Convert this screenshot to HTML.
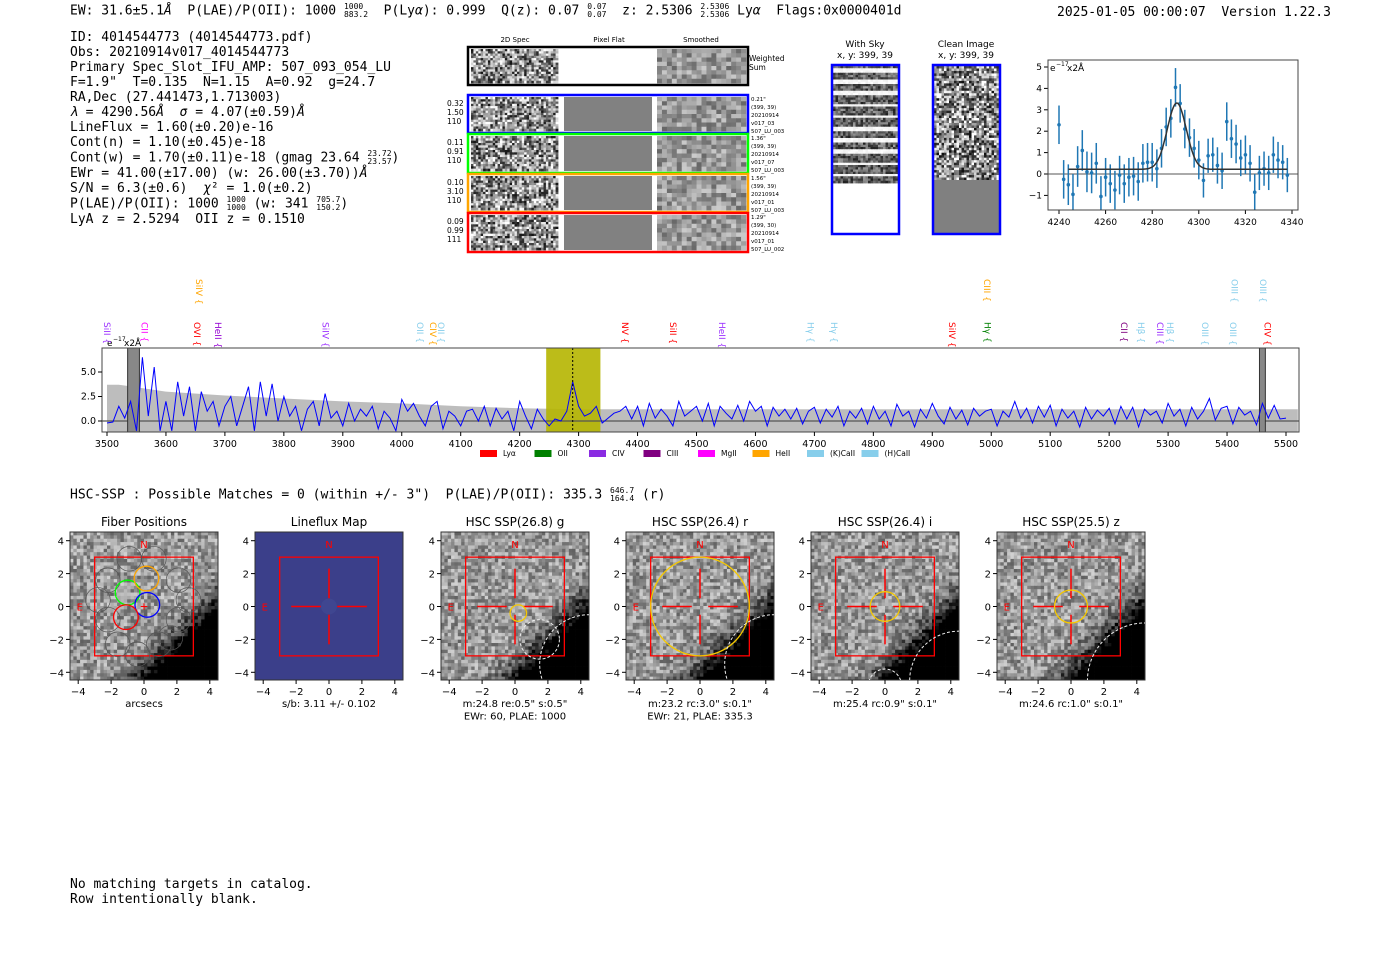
<!DOCTYPE html>
<html><head><meta charset="utf-8">
<style>
body{margin:0;background:#fff;width:1400px;height:953px;overflow:hidden;position:relative;font-family:"DejaVu Sans Mono","Liberation Mono",monospace;}
.t{position:absolute;font-size:13px;white-space:pre;color:#000;line-height:15px;}
.fr{display:inline-flex;flex-direction:column;font-size:8px;line-height:8px;vertical-align:middle;}
svg text{font-family:"DejaVu Sans","Liberation Sans",sans-serif;}
</style></head><body>
<div class="t" style="left:70px;top:3px">EW: 31.6±5.1<i>Å</i>  P(LAE)/P(OII): 1000 <span class="fr"><span>1000</span><span>883.2</span></span>  P(Ly<i>α</i>): 0.999  Q(z): 0.07 <span class="fr"><span>0.07</span><span>0.07</span></span>  z: 2.5306 <span class="fr"><span>2.5306</span><span>2.5306</span></span> Ly<i>α</i>  Flags:0x0000401d</div>
<div class="t" style="left:1057px;top:5px">2025-01-05 00:00:07  Version 1.22.3</div>
<div class="t" style="left:70px;top:30px">ID: 4014544773 (4014544773.pdf)
Obs: 20210914v017_4014544773
Primary Spec_Slot_IFU_AMP: 507_093_054_LU
F=1.9"  T=0.135  N=1.15  A=0.92  g=24.7
RA,Dec (27.441473,1.713003)
<i>λ</i> = 4290.56<i>Å</i>  <i>σ</i> = 4.07(±0.59)<i>Å</i>
LineFlux = 1.60(±0.20)e-16
Cont(n) = 1.10(±0.45)e-18
Cont(w) = 1.70(±0.11)e-18 (gmag 23.64 <span class="fr"><span>23.72</span><span>23.57</span></span>)
EWr = 41.00(±17.00) (w: 26.00(±3.70))<i>Å</i>
S/N = 6.3(±0.6)  <i>χ</i>² = 1.0(±0.2)
P(LAE)/P(OII): 1000 <span class="fr"><span>1000</span><span>1000</span></span> (w: 341 <span class="fr"><span>705.7</span><span>150.2</span></span>)
LyA z = 2.5294  OII z = 0.1510</div>
<div class="t" style="left:70px;top:487px">HSC-SSP : Possible Matches = 0 (within +/- 3")  P(LAE)/P(OII): 335.3 <span class="fr"><span>646.7</span><span>164.4</span></span> (r)</div>
<div class="t" style="left:70px;top:877px">No matching targets in catalog.
Row intentionally blank.</div>

<svg id="svg" width="1400" height="953" style="position:absolute;left:0;top:0" xmlns="http://www.w3.org/2000/svg"></svg>
<script>
// ===== data =====
const zoomWave=[4240,4242,4244,4246,4248,4250,4252,4254,4256,4258,4260,4262,4264,4266,4268,4270,4272,4274,4276,4278,4280,4282,4284,4286,4288,4290,4292,4294,4296,4298,4300,4302,4304,4306,4308,4310,4312,4314,4316,4318,4320,4322,4324,4326,4328,4330,4332,4334,4336,4338];
const zoomFlux=[2.3,-0.25,-0.5,-0.95,0.35,1.1,0.1,0.05,0.5,-1.05,-0.15,-0.45,-0.75,-0.05,-0.45,-0.15,-0.1,-0.35,0.5,0.55,0.55,0.25,1.2,2.2,2.6,4.05,3.3,2.1,1.7,1.2,0.65,-0.3,0.85,0.9,0.4,0.15,2.45,1.65,1.4,0.75,0.9,0.5,-0.85,0.05,0.25,0.05,0.9,0.65,0.55,-0.05];
const zoomErr=[0.9,0.9,0.95,0.95,0.95,0.95,0.95,0.95,0.95,0.95,0.9,0.9,0.9,0.9,0.9,0.9,0.9,0.9,0.9,0.9,0.9,0.9,0.9,0.9,0.9,0.9,0.9,0.9,0.9,0.9,0.9,0.8,0.8,0.8,0.85,0.85,0.9,0.9,0.9,0.85,0.9,0.85,0.85,0.8,0.8,0.8,0.85,0.85,0.8,0.8];
const fitParams=[4290.56,4.07,3.1,0.22]; // center, sigma, amplitude, continuum
const zoomXTicks=[4240,4260,4280,4300,4320,4340];
const zoomYTicks=[-1,0,1,2,3,4,5];

const specStart=3500, specStep=10;
const specFlux=[-0.2,-0.1,1.5,0.3,2.0,-1.0,6.5,0.5,5.5,-1.0,
2.0,-1.0,4.0,0.5,3.5,-1.0,3.0,1.0,2.0,-0.5,
1.5,2.5,-0.5,1.5,3.5,-1.0,4.0,0.5,3.8,0.0,
2.5,0.5,1.5,-1.0,1.2,2.0,-0.5,2.8,0.3,1.0,
-0.5,1.8,0.0,1.2,0.5,1.5,-0.8,1.0,0.3,-1.0,
2.2,1.0,1.8,0.5,-0.5,1.5,2.0,-0.8,1.0,0.5,
-0.5,1.0,1.2,0.0,1.5,-0.5,1.3,0.2,1.0,-1.0,
2.0,0.5,-0.8,1.2,0.2,-0.5,0.2,0.0,1.0,4.0,
1.5,0.5,0.8,1.5,-0.2,0.3,0.8,1.0,1.5,0.2,
1.5,-0.5,1.8,0.3,1.2,0.5,-0.5,2.0,0.5,1.0,
1.5,0.0,1.8,-0.5,1.5,0.8,0.2,1.6,0.0,2.0,
1.0,1.5,-0.5,1.4,0.5,1.2,0.2,1.3,-0.3,1.0,
1.4,-0.2,1.2,0.4,1.5,-0.5,1.0,0.3,1.3,-0.3,
1.5,0.2,1.0,-0.5,1.7,0.5,1.0,-0.6,1.2,0.3,
1.8,0.5,-0.3,1.4,0.2,1.1,-0.4,1.3,0.5,1.0,
1.2,-0.5,1.0,0.4,2.0,0.3,1.3,-0.2,1.5,0.4,
1.6,-0.5,1.2,0.3,1.0,-0.6,1.4,0.2,1.1,0.5,
1.3,-0.3,1.5,0.2,1.4,-0.6,1.2,0.6,1.0,-0.2,
1.8,0.5,1.2,-0.5,1.4,0.2,1.0,2.3,0.1,1.3,
1.5,-0.3,1.4,0.6,1.0,-0.4,1.8,0.3,1.6,0.2,
0.3];
const errWave=[3500,3520,3600,3700,3800,3900,4000,4100,4200,4300,4400,4500,4700,5000,5300,5520];
const errVal=[3.7,3.7,3.0,2.6,2.3,2.0,1.8,1.5,1.3,1.2,1.2,1.2,1.2,1.2,1.2,1.2];
const specXTicks=[3500,3600,3700,3800,3900,4000,4100,4200,4300,4400,4500,4600,4700,4800,4900,5000,5100,5200,5300,5400,5500];
const specYTicks=[0.0,2.5,5.0];
const lineNames=["SiII","CII","SiIV","OVI","HeII","SiIV","OII","CIV","OII","NV","SiII","HeII","Hγ","Hγ","SiIV","CIII","Hγ","CII","Hβ","CIII","Hβ","OIII","OIII","OIII","OIII","CIV"];
const lineWaves=[3500,3564,3656,3653,3688,3871,4031,4053,4067,4379,4460,4543,4693,4733,4933,4993,4994,5225,5254,5286,5303,5363,5410,5413,5461,5469];
const lineColors=["#9b30ff","#ff00ff","orange","red","#9400d3","#9b30ff","#87ceeb","orange","#87ceeb","red","red","#9b30ff","#87ceeb","#87ceeb","red","orange","green","#800080","#87ceeb","#9b30ff","#87ceeb","#87ceeb","#87ceeb","#87ceeb","#87ceeb","red"];
const lineRow=[0,0,1,0,0,0,0,0,0,0,0,0,0,0,0,1,0,0,0,0,0,0,0,1,1,0];
const legendNames=["Lyα","OII","CIV","CIII","MgII","HeII","(K)CaII","(H)CaII"];
const legendColors=["red","green","#8a2be2","#800080","#ff00ff","orange","#87ceeb","#87ceeb"];

const NS="http://www.w3.org/2000/svg";
const svg=document.getElementById('svg');
function mk(tag,attrs,parent){const e=document.createElementNS(NS,tag);for(const k in attrs)e.setAttribute(k,attrs[k]);(parent||svg).appendChild(e);return e;}
function txt(x,y,s,attrs,parent){const e=mk('text',Object.assign({x:x,y:y},attrs||{}),parent);e.textContent=s;return e;}
function hash(a,b,c){let h=(a*374761393+b*668265263+c*2147483647)|0;h=(h^(h>>>13))*1274126177|0;return ((h^(h>>>16))>>>0)/4294967295;}

// ===== noise images (imagery texture) =====
function noiseImg(g,x,y,w,h,nx,ny,seed,fn){
  const cw=w/nx,ch=h/ny;
  for(let j=0;j<ny;j++)for(let i=0;i<nx;i++){
    let v=fn?fn(i/nx,j/ny,hash(i,j,seed)):hash(i,j,seed);
    v=Math.max(0,Math.min(1,v));const c=Math.round(v*255);
    mk('rect',{x:(x+i*cw).toFixed(2),y:(y+j*ch).toFixed(2),width:(cw+0.4).toFixed(2),height:(ch+0.4).toFixed(2),fill:`rgb(${c},${c},${c})`},g);
  }
}

// ===== 2D spectra cutouts =====
const cut=mk('g',{});


txt(515,42,'2D Spec',{'font-size':7,'text-anchor':'middle'},cut);
txt(609,42,'Pixel Flat',{'font-size':7,'text-anchor':'middle'},cut);
txt(701,42,'Smoothed',{'font-size':7,'text-anchor':'middle'},cut);
const rows=[[47,85,'#000'],[95,133,'blue'],[134,173,'#0f0'],[174,212,'orange'],[213,252,'red']];
const rowLeft=[null,['0.32','1.50','110'],['0.11','0.91','110'],['0.10','3.10','110'],['0.09','0.99','111']];
const rowRight=[null,['0.21"','(399, 39)','20210914','v017_03','507_LU_003'],['1.36"','(399, 39)','20210914','v017_07','507_LU_003'],['1.56"','(399, 39)','20210914','v017_01','507_LU_003'],['1.29"','(399, 30)','20210914','v017_01','507_LU_002']];
rows.forEach((r,k)=>{
  const y0=r[0],y1=r[1];
  noiseImg(cut,471,y0+2,87,y1-y0-4,36,15,k*7+1,(u,v,n)=>0.55+(n-0.5)*0.95);
  if(k===0) mk('rect',{x:560,y:y0+2,width:96,height:y1-y0-4,fill:'#fff'},cut);
  else mk('rect',{x:564,y:y0+2,width:88,height:y1-y0-4,fill:'#818181'},cut);
  noiseImg(cut,657,y0+2,89,y1-y0-4,18,8,k*7+3,(u,v,n)=>0.6+(n-0.5)*0.4);
  mk('rect',{x:468,y:y0,width:280,height:y1-y0,fill:'none',stroke:r[2],'stroke-width':2.5},cut);
  if(rowLeft[k]) rowLeft[k].forEach((s,i)=>txt(447,y0+11+i*9,s,{'font-size':7.5},cut));
  if(rowRight[k]) rowRight[k].forEach((s,i)=>txt(751,y0+6+i*8,s,{'font-size':5.5},cut));
});
txt(749,61,'Weighted',{'font-size':7.5},cut);txt(749,70,'Sum',{'font-size':7.5},cut);

// With Sky / Clean image
const sky=mk('g',{});


txt(865,47,'With Sky',{'font-size':9,'text-anchor':'middle'},sky);
txt(865,58,'x, y: 399, 39',{'font-size':9,'text-anchor':'middle'},sky);
mk('rect',{x:832,y:65,width:67,height:169,fill:'#fff'},sky);
noiseImg(sky,833,66,65,117,26,52,91,(u,v,n)=>{const s=Math.sin(v*10*2*Math.PI); return s>0.55?0.93+n*0.07:0.12+n*0.5;});
mk('rect',{x:832,y:65,width:67,height:169,fill:'none',stroke:'blue','stroke-width':2.5},sky);
const cln=mk('g',{});


txt(966,47,'Clean Image',{'font-size':9,'text-anchor':'middle'},cln);
txt(966,58,'x, y: 399, 39',{'font-size':9,'text-anchor':'middle'},cln);
noiseImg(cln,934,66,65,114,26,46,57,(u,v,n)=>0.55+(n-0.5)*1.0);
mk('rect',{x:934,y:180,width:65,height:54,fill:'#808080'},cln);
mk('rect',{x:933,y:65,width:67,height:169,fill:'none',stroke:'blue','stroke-width':2.5},cln);

// ===== zoom spectrum plot =====
const zp=mk('g',{});


const zx=w=>1059+(w-4240)*2.33, zy=f=>174-f*21.4;
zoomXTicks.forEach(t=>{mk('line',{x1:zx(t),x2:zx(t),y1:210,y2:214,stroke:'#000'},zp);txt(zx(t),225,String(t),{'font-size':9,'text-anchor':'middle'},zp);});
zoomYTicks.forEach(t=>{mk('line',{x1:1044,x2:1048,y1:zy(t),y2:zy(t),stroke:'#000'},zp);txt(1042,zy(t)+3,t<0?'−'+(-t):String(t),{'font-size':9,'text-anchor':'end'},zp);});
mk('line',{x1:1048,x2:1298,y1:zy(0),y2:zy(0),stroke:'#555','stroke-width':1},zp);
zoomWave.forEach((w,i)=>{
  const e=mk('line',{x1:zx(w),x2:zx(w),y1:Math.min(210,zy(zoomFlux[i]-zoomErr[i])),y2:zy(zoomFlux[i]+zoomErr[i]),stroke:'#1f77b4','stroke-width':1.5},zp);
  
  const c=mk('circle',{cx:zx(w),cy:zy(zoomFlux[i]),r:1.8,fill:'#1f77b4'},zp);
  
});
let fp='';for(let w=4244;w<=4338;w+=0.5){const f=fitParams[3]+fitParams[2]*Math.exp(-0.5*((w-fitParams[0])/fitParams[1])**2);fp+=(fp?'L':'M')+zx(w).toFixed(1)+','+zy(f).toFixed(1);}
const fl=mk('path',{d:fp,fill:'none',stroke:'#333','stroke-width':1.5},zp);

mk('rect',{x:1048,y:60,width:250,height:150,fill:'none',stroke:'#444'},zp);
txt(1050,71,'e',{'font-size':9},zp);txt(1056,66,'−17',{'font-size':6},zp);txt(1067,71,'x2Å',{'font-size':9},zp);

// ===== full spectrum =====
const sp=mk('g',{});


const sx=w=>107+(w-3500)*0.5895, sy=f=>421-f*9.8;
const clip=mk('clipPath',{id:'spc'},sp);mk('rect',{x:102,y:348,width:1197,height:84},clip);
const inner=mk('g',{'clip-path':'url(#spc)'},sp);
let ep='M'+sx(errWave[0])+',432';errWave.forEach((w,i)=>ep+='L'+sx(w).toFixed(1)+','+sy(errVal[i]).toFixed(1));ep+='L'+sx(errWave[errWave.length-1])+',432Z';
const eb=mk('path',{d:ep,fill:'#bdbdbd'},inner);

const yb=mk('rect',{x:sx(4245),y:348,width:sx(4337)-sx(4245),height:84,fill:'#b5b500','opacity':0.9},inner);

mk('line',{x1:102,x2:1299,y1:sy(0),y2:sy(0),stroke:'#555','stroke-width':1.2},inner);
[[3535,3555],[5455,5465]].forEach(b=>{mk('rect',{x:sx(b[0]),y:348,width:sx(b[1])-sx(b[0]),height:84,fill:'#888',stroke:'#333'},inner);});
let spd='';specFlux.forEach((f,i)=>spd+=(i?'L':'M')+sx(specStart+i*specStep).toFixed(1)+','+sy(f).toFixed(1));
const sl=mk('path',{d:spd,fill:'none',stroke:'blue','stroke-width':1},inner);

mk('line',{x1:sx(4290),x2:sx(4290),y1:348,y2:432,stroke:'#000','stroke-dasharray':'2,2'},inner);
mk('rect',{x:102,y:348,width:1197,height:84,fill:'none',stroke:'#444'},sp);
specXTicks.forEach(t=>{mk('line',{x1:sx(t),x2:sx(t),y1:432,y2:436,stroke:'#000'},sp);txt(sx(t),447,String(t),{'font-size':9.5,'text-anchor':'middle'},sp);});
specYTicks.forEach(t=>{mk('line',{x1:98,x2:102,y1:sy(t),y2:sy(t),stroke:'#000'},sp);txt(96,sy(t)+3,t.toFixed(1),{'font-size':9.5,'text-anchor':'end'},sp);});
txt(107,346,'e',{'font-size':9},sp);txt(113,341,'−17',{'font-size':6},sp);txt(124,346,'x2Å',{'font-size':9},sp);
lineNames.forEach((n,i)=>{
  const x=sx(lineWaves[i]), y0=lineRow[i]?279:322;
  const t=txt(0,0,n+' {',{'font-size':9,fill:lineColors[i],transform:`translate(${(x-3).toFixed(1)},${y0}) rotate(90)`},sp);
  
});
legendNames.forEach((n,i)=>{
  const lx=480+i*54.5;
  mk('rect',{x:lx,y:450,width:17,height:7,fill:legendColors[i]},sp);
  txt(lx+23,456,n,{'font-size':7.5},sp);
});

// ===== thumbnails =====
const panels=[
 {x:70,title:'Fiber Positions',lab:['arcsecs'],seed:11,type:'fiber'},
 {x:255,title:'Lineflux Map',lab:['s/b: 3.11 +/- 0.102'],seed:0,type:'flux'},
 {x:441,title:'HSC SSP(26.8) g',lab:['m:24.8  re:0.5"  s:0.5"','EWr: 60, PLAE: 1000'],seed:21,type:'hsc',r:0.5,arcs:[[1.5,-2,1.2],[4.5,-3.5,3]]},
 {x:626,title:'HSC SSP(26.4) r',lab:['m:23.2 rc:3.0"  s:0.1"','EWr: 21, PLAE: 335.3'],seed:31,type:'hsc',r:3.0,arcs:[[4.5,-3.5,3]]},
 {x:811,title:'HSC SSP(26.4) i',lab:['m:25.4 rc:0.9"  s:0.1"'],seed:41,type:'hsc',r:0.9,arcs:[[0,-4.8,1],[4.5,-4.5,3]]},
 {x:997,title:'HSC SSP(25.5) z',lab:['m:24.6 rc:1.0"  s:0.1"'],seed:51,type:'hsc',r:1.0,arcs:[[4.5,-4.5,3.5]]}];
const ticks=[-4,-2,0,2,4];
panels.forEach((p,k)=>{
  const g=mk('g',{});
  
  
  const X=a=>p.x+74+a*16.45, Y=a=>606.5-a*16.45;
  txt(p.x+74,526,p.title,{'font-size':12,'text-anchor':'middle'},g);
  if(p.type==='flux'){mk('rect',{x:p.x,y:532,width:148,height:148,fill:'#3b3f8a'},g);mk('circle',{cx:X(0),cy:Y(0),r:8,fill:'#3f4690'},g);}
  else noiseImg(g,p.x,532,148,148,44,44,p.seed,(u,v,n)=>{const d=Math.max(0,(u+v-1.15))*2.2;return 0.6+(n-0.5)*0.45-d*d*1.2;});
  mk('rect',{x:p.x,y:532,width:148,height:148,fill:'none',stroke:'#333'},g);
  mk('rect',{x:X(-3),y:Y(3),width:X(3)-X(-3),height:Y(-3)-Y(3),fill:'none',stroke:'red','stroke-width':1.3},g);
  txt(X(0),Y(3.8)+4,'N',{'font-size':10,fill:'red','text-anchor':'middle'},g);
  txt(X(-3.9),Y(0)+4,'E',{'font-size':10,fill:'red','text-anchor':'middle'},g);
  if(p.type==='fiber'){
    const fib=[[-0.9,2.9],[0.6,2.9],[-2.2,1.6],[2.1,1.6],[-2.2,-0.8],[2.1,-0.8],[-1.6,-2.3],[0.9,-2.3],[2.7,0.4],[-2.8,0.4],[1.6,-1.9],[-0.4,-2.9]];
    fib.forEach(f=>mk('circle',{cx:X(f[0]),cy:Y(f[1]),r:0.75*16.45,fill:'none',stroke:'#555','stroke-width':0.7},g));
    [[-1,0.85,'#0f0'],[0.15,1.7,'orange'],[0.2,0.1,'blue'],[-1.1,-0.65,'red']].forEach(f=>mk('circle',{cx:X(f[0]),cy:Y(f[1]),r:0.75*16.45,fill:'none',stroke:f[2],'stroke-width':1.3},g));
    mk('line',{x1:X(-0.2),x2:X(0.2),y1:Y(0),y2:Y(0),stroke:'red'},g);mk('line',{x1:X(0),x2:X(0),y1:Y(-0.2),y2:Y(0.2),stroke:'red'},g);
  } else {
    [[-2.3,-0.5],[0.5,2.3]].forEach(s=>{mk('line',{x1:X(s[0]),x2:X(s[1]),y1:Y(0),y2:Y(0),stroke:'red','stroke-width':1.5},g);mk('line',{x1:X(0),x2:X(0),y1:Y(s[0]),y2:Y(s[1]),stroke:'red','stroke-width':1.5},g);});
  }
  if(p.type==='hsc'){
    const cl=mk('clipPath',{id:'pc'+k},g);mk('rect',{x:p.x,y:532,width:148,height:148},cl);
    const gg=mk('g',{'clip-path':`url(#pc${k})`},g);
    mk('circle',{cx:X(k===2?0.2:0),cy:Y(k===2?-0.4:0),r:p.r*16.45,fill:'none',stroke:'#f5c800','stroke-width':1.3},gg);
    p.arcs.forEach(a=>mk('circle',{cx:X(a[0]),cy:Y(a[1]),r:a[2]*16.45,fill:'none',stroke:'#eee','stroke-dasharray':'3,2'},gg));
  }
  ticks.forEach(t=>{
    mk('line',{x1:X(t),x2:X(t),y1:680,y2:684,stroke:'#000'},g);
    txt(X(t),695,t<0?'−'+(-t):String(t),{'font-size':10,'text-anchor':'middle'},g);
    mk('line',{x1:p.x-4,x2:p.x,y1:Y(t),y2:Y(t),stroke:'#000'},g);
    txt(p.x-6,Y(t)+4,t<0?'−'+(-t):String(t),{'font-size':10,'text-anchor':'end'},g);
  });
  p.lab.forEach((s,i)=>txt(p.x+74,707+i*12.5,s,{'font-size':10,'text-anchor':'middle'},g));
});
</script>
</body></html>
